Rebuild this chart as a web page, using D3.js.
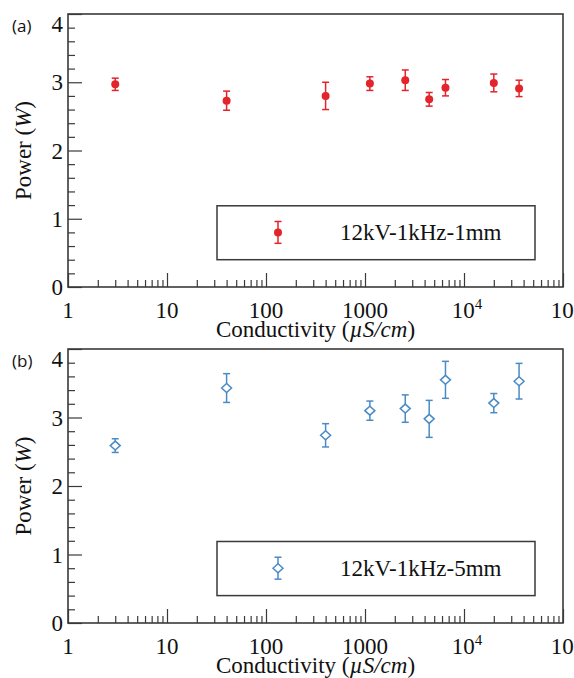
<!DOCTYPE html>
<html>
<head>
<meta charset="utf-8">
<script src="https://cdn.jsdelivr.net/npm/d3@7"></script>
</head>
<body style="margin:0;background:#fff">
<svg id="chart" width="574" height="678" style="display:block"></svg>
<script>
// ---- data ----
const conductivity = [3, 40, 400, 1120, 2550, 4450, 6500, 20000, 36000];
const power1mm = [2.97, 2.73, 2.80, 2.98, 3.03, 2.75, 2.92, 2.99, 2.91];
const err1mm   = [0.09, 0.14, 0.20, 0.10, 0.15, 0.10, 0.12, 0.13, 0.12];
const power5mm = [2.59, 3.43, 2.74, 3.10, 3.13, 2.98, 3.55, 3.21, 3.53];
const err5mm   = [0.10, 0.21, 0.17, 0.14, 0.20, 0.27, 0.27, 0.14, 0.26];
const xMajorTicks = [1, 10, 100, 1000, 10000, 100000];
const xTickLabels = [["1"], ["10"], ["100"], ["1000"], ["10", "4"], ["10", "5"]];
const yMajorTicks = [0, 1, 2, 3, 4];
const panelLabels = ["(a)", "(b)"];
const legendLabels = ["12kV-1kHz-1mm", "12kV-1kHz-5mm"];
const xTitle = "Conductivity";
const xUnit = "µS/cm";
const yTitle = "Power";
const yUnit = "W";

const svg = d3.select("#chart");
const SERIF = '"Liberation Serif"';
const SANS = '"Open Sans"';
const frameColor = "#3a3a3a";
const red = "#e3242b";
const blue = "#4a8bc6";

const left = 68, right = 563;
const x = d3.scaleLog().domain([1, 1e5]).range([left, right]);

const xMinor = [];
for (let d = 1; d < 1e5; d *= 10) for (let k = 2; k <= 9; k++) xMinor.push(d * k);
const yMinor = d3.range(0, 4.0001, 0.2).map(v => +v.toFixed(1)).filter(v => !yMajorTicks.includes(v));

function serifText() {
  return svg.append("text").style("font-family", SERIF, "important")
    .attr("font-size", 23).attr("fill", "#111");
}

function cleanAxis(a) {
  a.select(".domain").remove();
  a.attr("font-family", null).attr("font-size", null);
  a.selectAll("line").attr("stroke", frameColor).attr("stroke-width", 1.2);
  a.selectAll("text").remove();
}

function panel(top, bottom, values, errs, idx) {
  const y = d3.scaleLinear().domain([0, 4]).range([bottom, top]);
  const g = svg.append("g");

  // x ticks (inward)
  g.append("g").attr("transform", `translate(0,${bottom})`)
    .call(d3.axisBottom(x).tickValues(xMinor).tickSize(-7).tickFormat(""))
    .call(cleanAxis);
  g.append("g").attr("transform", `translate(0,${bottom})`)
    .call(d3.axisBottom(x).tickValues(xMajorTicks).tickSize(-14).tickFormat(""))
    .call(cleanAxis);

  // y ticks (inward)
  g.append("g").attr("transform", `translate(${left},0)`)
    .call(d3.axisLeft(y).tickValues(yMinor).tickSize(-7).tickFormat(""))
    .call(cleanAxis);
  g.append("g").attr("transform", `translate(${left},0)`)
    .call(d3.axisLeft(y).tickValues(yMajorTicks).tickSize(-14).tickFormat(""))
    .call(cleanAxis);

  // frame
  g.append("rect").attr("x", left).attr("y", top)
    .attr("width", right - left).attr("height", bottom - top)
    .attr("fill", "none").attr("stroke", frameColor).attr("stroke-width", 1.6);

  const color = idx === 0 ? red : blue;
  function marker(sel, cx, cy, e1, e2) {
    sel.append("line").attr("x1", cx).attr("x2", cx).attr("y1", e1).attr("y2", e2)
      .attr("stroke", color).attr("stroke-width", 1.5);
    [e1, e2].forEach(ey => sel.append("line").attr("x1", cx - 3.5).attr("x2", cx + 3.5)
      .attr("y1", ey).attr("y2", ey).attr("stroke", color).attr("stroke-width", 1.5));
    if (idx === 0) {
      sel.append("circle").attr("cx", cx).attr("cy", cy).attr("r", 4).attr("fill", color);
    } else {
      sel.append("path").attr("d", `M${cx - 5},${cy} L${cx},${cy - 4.5} L${cx + 5},${cy} L${cx},${cy + 4.5} Z`)
        .attr("fill", "#fff").attr("stroke", color).attr("stroke-width", 1.5);
    }
  }

  // data
  conductivity.forEach((c, i) => {
    const cx = x(c), cy = y(values[i]);
    marker(g.append("g"), cx, cy, y(values[i] + errs[i]), y(values[i] - errs[i]));
  });

  // legend
  const lg = g.append("g");
  const lt = y(1.19), lb = y(0.4);
  lg.append("rect").attr("x", 217).attr("y", lt).attr("width", 318).attr("height", lb - lt)
    .attr("fill", "#fff").attr("stroke", frameColor).attr("stroke-width", 1.5);
  const ly = y(0.8);
  marker(lg, 278, ly, y(0.96), y(0.64));
  serifText().attr("x", 340).attr("y", ly + 8).text(legendLabels[idx]);

  // x tick labels
  xMajorTicks.forEach((t, i) => {
    const lab = xTickLabels[i];
    const txt = serifText()
      .attr("x", x(t) + (lab.length > 1 ? 3 : 0)).attr("y", bottom + 31)
      .attr("text-anchor", "middle");
    txt.append("tspan").text(lab[0]);
    if (lab.length > 1) txt.append("tspan").attr("dy", -9).attr("font-size", 15).text(lab[1]);
  });
  // y tick labels
  yMajorTicks.forEach(t => {
    serifText().attr("x", left - 5).attr("y", y(t) + (t === 4 ? 10 : 0) + 8)
      .attr("text-anchor", "end").text(t);
  });

  // axis titles
  const xt = serifText().attr("x", (left + right) / 2).attr("y", bottom + 50)
    .attr("text-anchor", "middle");
  xt.append("tspan").text(xTitle + " (");
  xt.append("tspan").attr("font-style", "italic").text(xUnit);
  xt.append("tspan").text(")");

  const yt = serifText()
    .attr("transform", `translate(31,${(top + bottom) / 2}) rotate(-90)`)
    .attr("text-anchor", "middle");
  yt.append("tspan").text(yTitle + " (");
  yt.append("tspan").attr("font-style", "italic").text(yUnit);
  yt.append("tspan").text(")");

  // panel label
  svg.append("text").attr("x", 12).attr("y", top + 18)
    .style("font-family", SANS, "important").attr("font-size", 17).attr("fill", "#111")
    .text(panelLabels[idx]);
}

panel(14, 287, power1mm, err1mm, 0);
panel(349, 623, power5mm, err5mm, 1);
</script>
</body>
</html>
